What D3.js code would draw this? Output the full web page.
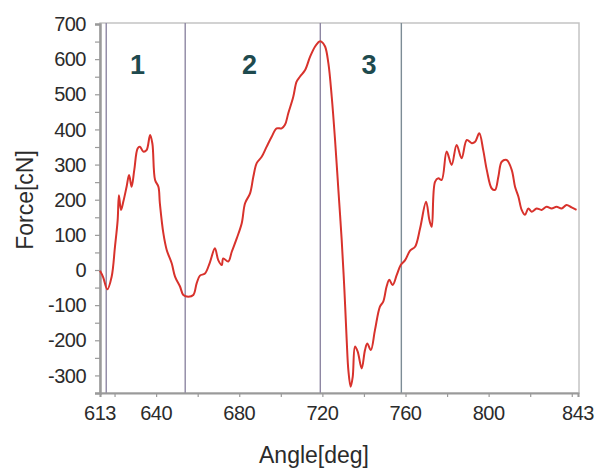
<!DOCTYPE html>
<html>
<head>
<meta charset="utf-8">
<script src="https://cdn.jsdelivr.net/npm/d3@7/dist/d3.min.js"></script>
<style>
  html, body { margin: 0; padding: 0; background: #ffffff; }
  svg { display: block; }
  text { font-family: "Liberation Sans", Arial, sans-serif; }
</style>
</head>
<body>
<svg id="chart" width="597" height="469"></svg>
<script>
// ---- data ----
const angle = [613, 614.5, 616.5, 618.6, 620.2, 621.5, 622.1, 623.1, 624.2, 625.8, 627, 628.2, 629.5, 631.1, 632.2, 633.8, 635.4, 637.1, 638.2, 639.5,
  641.1, 641.8, 643.5, 645.1, 647.5, 649.1, 651.5, 653.1, 655.5, 657.9, 659.5, 661.1, 663.5, 665.9, 668.3, 669.9, 671.6, 672.3, 674.7, 676.4,
  678.8, 681.2, 682.8, 685.2, 686.8, 688.4, 690.8, 693.2, 695.6, 698, 700.4, 702, 703.6, 706, 707.6, 709.2, 711.7, 714.1, 716.5, 718.5,
  719.5, 721.3, 722.9, 724.5, 726.1, 727.7, 729.3, 730.6, 731.7, 732.5, 733.6, 734.6, 735.7, 737, 738.9, 740.5, 741.6, 743.3, 745.3, 747.7,
  749.3, 750.9, 752.2, 753.8, 755.8, 757.7, 759.8, 762.2, 764.6, 767, 769.9, 771.5, 772.6, 774.2, 775.8, 777.4, 779.8, 782.2, 784.6, 787,
  789.5, 791.9, 793.5, 795.5, 797.4, 799.1, 801.5, 803.1, 804.7, 806.3, 808.7, 811.1, 812.7, 814.3, 815.9, 817.5, 819.1, 820.7, 823.1, 825.5,
  827.9, 830.3, 832.7, 835.1, 837.5, 839.9, 842.3];
const force = [-2, -20, -55, -19, 66, 142, 213, 171, 194, 237, 270, 237, 285, 346, 351, 337, 341, 384, 360, 256,
  237, 190, 104, 57, 19, -19, -47, -71, -76, -71, -38, -16, -10, 22, 62, 28, 14, 33, 24, 52,
  90, 133, 190, 218, 266, 304, 322, 351, 379, 403, 403, 413, 446, 493, 536, 550, 569, 607, 636, 650,
  650, 636, 588, 493, 370, 228, 85, -57, -199, -285, -332, -304, -218, -232, -280, -228, -209, -228, -171, -104,
  -90, -47, -28, -43, -14, 14, 28, 55, 66, 118, 194, 142, 123, 251, 261, 256, 337, 299, 356, 318,
  370, 361, 365, 389, 341, 285, 232, 228, 266, 308, 313, 285, 237, 209, 171, 157, 175, 166, 175, 171,
  180, 175, 180, 175, 185, 178, 171];

const xTickLabels = [613, 640, 680, 720, 760, 800, 843];
const xMinorTicks = [613, 620, 640, 660, 680, 700, 720, 740, 760, 780, 800, 820, 840, 843];
const yTickLabels = [700, 600, 500, 400, 300, 200, 100, 0, -100, -200, -300];
const yMinorTicks = d3.range(-350, 701, 50);
const phaseBounds = [616, 654, 719, 758];
const phaseLabels = ["1", "2", "3"];
const phaseLabelAt = [631, 685, 742.4];

const xTitle = "Angle[deg]";
const yTitle = "Force[cN]";

// ---- layout ----
const svg = d3.select("#chart");
const L = 100, R = 578, T = 24, B = 393;
const x = d3.scaleLinear().domain([613, 843]).range([L, R]);
const y = d3.scaleLinear().domain([-350, 700]).range([B, T]);

// frame (top & right)
svg.append("rect")
  .attr("x", L).attr("y", T - 1)
  .attr("width", R - L + 1).attr("height", B - T + 1)
  .attr("fill", "none").attr("stroke", "#c4c4c4").attr("stroke-width", 1.5);

// phase boundary lines
svg.append("g").selectAll("line").data(phaseBounds).join("line")
  .attr("x1", d => x(d)).attr("x2", d => x(d))
  .attr("y1", T - 1).attr("y2", B)
  .attr("stroke", (d, i) => i === 3 ? "#7d8c96" : "#8e87a3")
  .attr("stroke-width", 1.4);

// y axis
const yAxis = svg.append("g").attr("transform", `translate(${L},0)`)
  .call(d3.axisLeft(y).tickValues(yMinorTicks).tickSize(5).tickFormat(""));
yAxis.select(".domain").attr("stroke", "#9a9a9a").attr("stroke-width", 2.5);
yAxis.selectAll(".tick line").attr("stroke", "#9a9a9a").attr("stroke-width", 1.2);

svg.append("g").selectAll("text").data(yTickLabels).join("text")
  .attr("x", 86).attr("y", d => y(d))
  .attr("dy", "0.36em")
  .attr("text-anchor", "end")
  .attr("font-size", 20)
  .attr("fill", "#2b2b2b")
  .attr("letter-spacing", "-0.5")
  .text(d => d);

// x axis
const xAxis = svg.append("g").attr("transform", `translate(0,${B})`)
  .call(d3.axisBottom(x).tickValues(xMinorTicks).tickSize(4).tickFormat(""));
xAxis.select(".domain").attr("stroke", "#9a9a9a").attr("stroke-width", 2);
xAxis.selectAll(".tick line").attr("stroke", "#9a9a9a").attr("stroke-width", 1.2);

svg.append("g").selectAll("text").data(xTickLabels).join("text")
  .attr("x", d => x(d)).attr("y", 420)
  .attr("text-anchor", "middle")
  .attr("font-size", 20)
  .attr("fill", "#2b2b2b")
  .attr("letter-spacing", "-0.5")
  .text(d => d);

// curve
const pts = angle.map((a, i) => [a, force[i]]);
svg.append("path")
  .datum(pts)
  .attr("fill", "none")
  .attr("stroke", "#d8322c")
  .attr("stroke-width", 2)
  .attr("stroke-linejoin", "round")
  .attr("d", d3.line().x(d => x(d[0])).y(d => y(d[1])).curve(d3.curveCatmullRom.alpha(0.5)));

// phase labels
svg.append("g").selectAll("text").data(phaseLabels).join("text")
  .attr("x", (d, i) => x(phaseLabelAt[i])).attr("y", 74)
  .attr("text-anchor", "middle")
  .attr("font-size", 27)
  .attr("font-weight", "bold")
  .attr("fill", "#1e4a4e")
  .text(d => d);

// titles
svg.append("text")
  .attr("x", 314).attr("y", 463)
  .attr("text-anchor", "middle")
  .attr("font-size", 23)
  .attr("fill", "#2b2b2b")
  .text(xTitle);

svg.append("text")
  .attr("transform", "translate(33,200) rotate(-90)")
  .attr("text-anchor", "middle")
  .attr("font-size", 23)
  .attr("fill", "#2b2b2b")
  .text(yTitle);
</script>
</body>
</html>
